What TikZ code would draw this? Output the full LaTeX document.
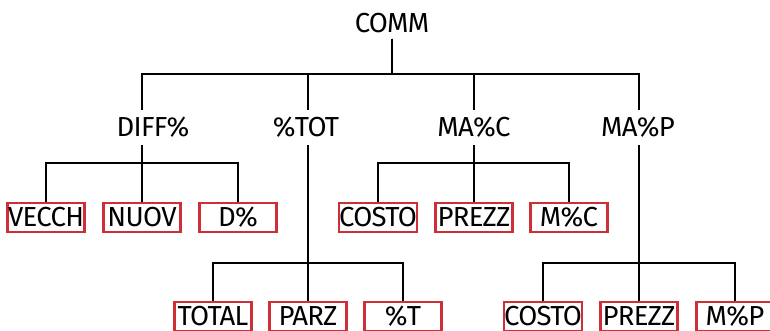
\documentclass[tikz,border=0pt]{standalone}
\usepackage{fontspec}
\setmainfont{Fira Sans}[LetterSpace=-2.5]
\definecolor{hpred}{RGB}{206,46,54}
\begin{document}
\begin{tikzpicture}[x=1pt,y=-1pt,
  lbl/.style={font=\fontsize{27.5}{27.5}\selectfont, text height=17pt, text depth=0pt, inner xsep=0pt, inner ysep=9pt},
  leaf/.style={draw=hpred, line width=2.1pt, minimum width=77pt, minimum height=29pt, inner sep=0pt,
    font=\fontsize{27.5}{27.5}\selectfont, text height=17pt, text depth=0pt},
  edge/.style={line width=2.4pt, black}]
\useasboundingbox (0,0) rectangle (770,330);
\fill[white] (0,0) rectangle (770,330);
\clip (0,0) rectangle (770,330);
% root
\node[lbl, inner ysep=6pt] (comm) at (392,24) {COMM};
% level 2
\node[lbl] (diff) at (153,127.5) {DIFF\%};
\node[lbl] (tot) at (306,127.5) {\%TOT};
\node[lbl] (mac) at (474,127.5) {MA\%C};
\node[lbl] (map) at (638,127.5) {MA\%P};
% level 3 leaves
\node[leaf] (vecch) at (46,217.5) {VECCH};
\node[leaf] (nuov) at (142,217.5) {NUOV};
\node[leaf] (dp) at (238,217.5) {D\%};
\node[leaf] (costo1) at (378,217.5) {COSTO};
\node[leaf] (prezz1) at (474,217.5) {PREZZ};
\node[leaf] (mc) at (569,217.5) {M\%C};
% level 4 leaves
\node[leaf] (total) at (213,316.5) {TOTAL};
\node[leaf] (parz) at (308,316.5) {PARZ};
\node[leaf] (pt) at (403,316.5) {\%T};
\node[leaf] (costo2) at (543,316.5) {COSTO};
\node[leaf] (prezz2) at (639,316.5) {PREZZ};
\node[leaf] (mp) at (735,316.5) {M\%P};
% connectors
\draw[edge] (comm.south) -- ++(0,35) -| ([xshift=-11pt]diff.north);
\draw[edge] (comm.south) -- ++(0,35) -| ([xshift=2pt]tot.north);
\draw[edge] (comm.south) -- ++(0,35) -| (mac.north);
\draw[edge] (comm.south) -- ++(0,35) -| ([xshift=1pt]map.north);
\foreach \c in {vecch,nuov,dp} \draw[edge] ([xshift=-11pt]diff.south) -- ++(0,18) -| (\c.north);
\foreach \c in {costo1,prezz1,mc} \draw[edge] (mac.south) -- ++(0,18) -| (\c.north);
\foreach \c in {total,parz,pt} \draw[edge] ([xshift=2pt]tot.south) -- ++(0,118) -| (\c.north);
\foreach \c in {costo2,prezz2,mp} \draw[edge] ([xshift=1pt]map.south) -- ++(0,118) -| (\c.north);
\end{tikzpicture}
\end{document}
